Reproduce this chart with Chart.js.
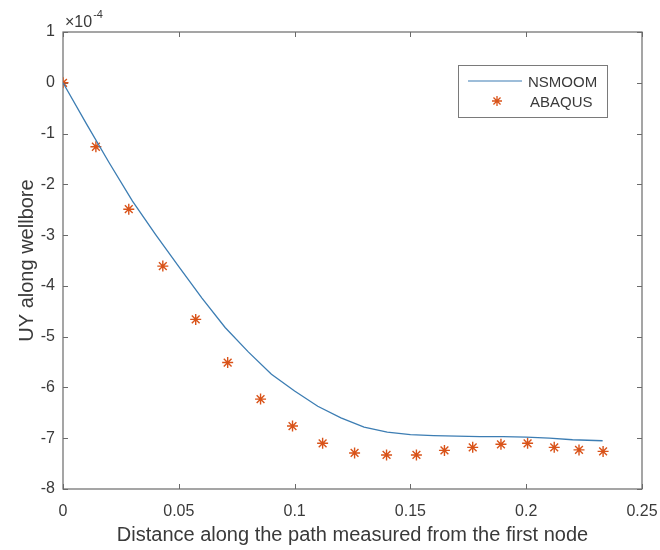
<!DOCTYPE html>
<html>
<head>
<meta charset="utf-8">
<script src="https://cdn.jsdelivr.net/npm/chart.js@4"></script>
<style>
  html, body { margin: 0; padding: 0; background: #ffffff; }
  #wrap { width: 660px; height: 550px; }
</style>
</head>
<body>
<div id="wrap"><canvas id="c" width="660" height="550"></canvas></div>
<script>
// ---- data (UY in units of 1e-4) ----
const nsmoomX  = [0, 0.01, 0.02, 0.03, 0.04, 0.05, 0.06, 0.07, 0.08, 0.09, 0.10, 0.11, 0.12, 0.13, 0.14, 0.15, 0.16, 0.17, 0.18, 0.19, 0.20, 0.21, 0.22, 0.233];
const nsmoomUY = [0, -0.80, -1.58, -2.33, -2.99, -3.62, -4.24, -4.82, -5.30, -5.74, -6.07, -6.37, -6.60, -6.78, -6.88, -6.93, -6.95, -6.96, -6.97, -6.97, -6.98, -7.00, -7.03, -7.05];
const abaqusX  = [0, 0.0142, 0.0284, 0.0431, 0.0573, 0.0711, 0.0853, 0.0991, 0.1121, 0.1259, 0.1397, 0.1526, 0.1647, 0.1769, 0.1891, 0.2006, 0.2121, 0.2228, 0.2332];
const abaqusUY = [0, -1.26, -2.49, -3.61, -4.66, -5.51, -6.23, -6.76, -7.10, -7.29, -7.33, -7.33, -7.24, -7.18, -7.12, -7.10, -7.18, -7.23, -7.26];
const xTicks = [0, 0.05, 0.1, 0.15, 0.2, 0.25];
const yTicks = [-8, -7, -6, -5, -4, -3, -2, -1, 0, 1];
const seriesNames = ['NSMOOM', 'ABAQUS'];
const xTitle = 'Distance along the path measured from the first node';
const yTitle = 'UY along wellbore';

const axisColor = '#6a6a6a';
const textColor = '#3a3a3a';
const FONT = "'Liberation Sans', Arial, Helvetica, sans-serif";

const framePlugin = {
  id: 'frame',
  beforeDatasetsDraw(chart) {
    const {ctx, chartArea: a, scales: {x, y}} = chart;
    ctx.save();
    ctx.strokeStyle = axisColor;
    ctx.lineWidth = 1.2;
    ctx.strokeRect(a.left, a.top, a.right - a.left, a.bottom - a.top);
    ctx.lineWidth = 1;
    const tl = 5;
    ctx.beginPath();
    xTicks.forEach(v => {
      const px = Math.round(x.getPixelForValue(v)) + 0.5;
      ctx.moveTo(px, a.bottom); ctx.lineTo(px, a.bottom - tl);
      ctx.moveTo(px, a.top); ctx.lineTo(px, a.top + tl);
    });
    yTicks.forEach(v => {
      const py = Math.round(y.getPixelForValue(v)) + 0.5;
      ctx.moveTo(a.left, py); ctx.lineTo(a.left + tl, py);
      ctx.moveTo(a.right, py); ctx.lineTo(a.right - tl, py);
    });
    ctx.stroke();
    // exponent label
    ctx.fillStyle = textColor;
    ctx.textBaseline = 'alphabetic';
    ctx.textAlign = 'left';
    ctx.font = '16px ' + FONT;
    ctx.fillText('\u00d710', a.left + 2, a.top - 5);
    const w = ctx.measureText('\u00d710').width;
    ctx.font = '11px ' + FONT;
    ctx.fillText('-4', a.left + 2 + w + 1, a.top - 14);
    ctx.restore();
  },
  afterDatasetsDraw(chart) {
    const {ctx, chartArea: a} = chart;
    const ds = chart.data.datasets;
    const bx = a.right - 184, by = a.top + 33, bw = 149, bh = 52;
    ctx.save();
    ctx.fillStyle = '#ffffff';
    ctx.fillRect(bx, by, bw, bh);
    ctx.strokeStyle = '#7a7a7a';
    ctx.lineWidth = 1;
    ctx.strokeRect(bx + 0.5, by + 0.5, bw, bh);
    // entry 1: line
    ctx.strokeStyle = ds[0].borderColor;
    ctx.lineWidth = 1.2;
    ctx.beginPath();
    ctx.moveTo(bx + 10, by + 16); ctx.lineTo(bx + 64, by + 16);
    ctx.stroke();
    // entry 2: star marker
    ctx.strokeStyle = ds[1].borderColor;
    ctx.lineWidth = 1.3;
    Chart.helpers.drawPoint(ctx, {pointStyle: 'star', radius: 5, borderWidth: 1.3}, bx + 39, by + 36);
    ctx.fillStyle = textColor;
    ctx.font = '15px ' + FONT;
    ctx.textBaseline = 'middle';
    ctx.textAlign = 'left';
    ctx.fillText(ds[0].label, bx + 70, by + 18);
    ctx.fillText(ds[1].label, bx + 72, by + 38);
    ctx.restore();
  }
};

new Chart(document.getElementById('c'), {
  type: 'scatter',
  data: {
    datasets: [
      {
        label: seriesNames[0],
        data: nsmoomX.map((v, i) => ({x: v, y: nsmoomUY[i]})),
        showLine: true,
        borderColor: '#3c7db3',
        borderWidth: 1.3,
        pointRadius: 0,
        tension: 0,
        fill: false
      },
      {
        label: seriesNames[1],
        data: abaqusX.map((v, i) => ({x: v, y: abaqusUY[i]})),
        showLine: false,
        pointStyle: 'star',
        pointRadius: 5.5,
        pointBorderWidth: 1.4,
        borderColor: '#D95319',
        backgroundColor: '#D95319'
      }
    ]
  },
  options: {
    responsive: false,
    animation: false,
    layout: { padding: { left: 0, top: 32, right: 18, bottom: 0 } },
    plugins: { legend: { display: false }, tooltip: { enabled: false } },
    scales: {
      x: {
        type: 'linear',
        min: 0, max: 0.25,
        afterBuildTicks: s => { s.ticks = xTicks.map(v => ({value: v})); },
        ticks: {
          color: textColor, padding: 13,
          font: { family: FONT, size: 16 },
          maxRotation: 0,
          callback: v => String(v)
        },
        grid: { display: false, drawTicks: false },
        border: { display: false },
        title: {
          display: true, text: xTitle, color: textColor,
          font: { family: FONT, size: 20 },
          padding: { top: 0, bottom: 3 }
        },
        afterFit: s => { s.height = 61; s.paddingLeft = 0; s.paddingRight = 0; }
      },
      y: {
        type: 'linear',
        min: -8, max: 1,
        afterBuildTicks: s => { s.ticks = yTicks.map(v => ({value: v})); },
        ticks: {
          color: textColor, padding: 8,
          font: { family: FONT, size: 16 },
          callback: v => String(v)
        },
        grid: { display: false, drawTicks: false },
        border: { display: false },
        title: {
          display: true, text: yTitle, color: textColor,
          font: { family: FONT, size: 20 },
          padding: { top: 15, bottom: 0 }
        },
        afterFit: s => { s.width = 63; s.paddingTop = 0; s.paddingBottom = 0; }
      }
    }
  },
  plugins: [framePlugin]
});
</script>
</body>
</html>
